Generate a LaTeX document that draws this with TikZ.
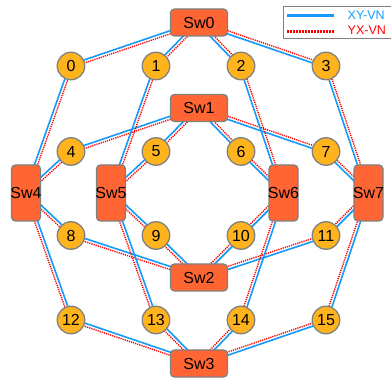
\documentclass[tikz,border=0pt]{standalone}
\usepackage{fontspec}
\setmainfont{Liberation Sans}
\usetikzlibrary{calc}
\definecolor{xyblue}{RGB}{20,155,250}
\definecolor{yxred}{RGB}{255,0,0}
\definecolor{swfill}{RGB}{255,102,51}
\definecolor{pefill}{RGB}{255,180,30}
\definecolor{rim}{RGB}{128,128,128}
\pgfdeclarelayer{bg}
\pgfdeclarelayer{links}
\pgfsetlayers{bg,links,main}
\tikzset{
  swh/.style={draw=rim, line width=1.3pt, fill=swfill, rounded corners=4pt,
    minimum width=57pt, minimum height=27pt, inner sep=0pt,
    font=\fontsize{16}{18}\selectfont},
  swv/.style={swh, minimum width=29pt, minimum height=56pt},
  pe/.style={circle, draw=rim, line width=1.3pt, fill=pefill,
    minimum size=27.5pt, inner sep=0pt, font=\fontsize{16}{18}\selectfont},
  xyline/.style={draw=xyblue, line width=1.6pt},
  yxline/.style={draw=yxred, line width=1.4pt, dash pattern=on 1.2pt off 1pt},
  legtext/.style={anchor=base west, inner sep=0pt, font=\fontsize{12.5}{14}\selectfont},
}
% A pair of virtual-network channels between two nodes:
% the XY channel runs on the left of the direction #1 -> #2, the YX channel on the right.
\newcommand\vnlink[2]{%
  \draw[xyline] ($(#1.center)!1.5pt!90:(#2.center)$) -- ($(#2.center)!1.5pt!-90:(#1.center)$);
  \draw[yxline] ($(#1.center)!1.5pt!-90:(#2.center)$) -- ($(#2.center)!1.5pt!90:(#1.center)$);
}
\begin{document}
\begin{tikzpicture}[x=1pt,y=-1pt]
\begin{pgfonlayer}{bg}
  \fill[white] (0,0) rectangle (391,379);
\end{pgfonlayer}
\clip (0,0) rectangle (391,379);

% row switches
\node[swh] (sw0) at (199,22.5) {Sw0};
\node[swh] (sw1) at (199,108) {Sw1};
\node[swh] (sw2) at (199,277.5) {Sw2};
\node[swh] (sw3) at (199,363.5) {Sw3};
% column switches
\node[swv] (sw4) at (26,193) {\makebox[0pt]{Sw4}};
\node[swv] (sw5) at (111,193) {\makebox[0pt]{Sw5}};
\node[swv] (sw6) at (283.5,193) {\makebox[0pt]{Sw6}};
\node[swv] (sw7) at (368.5,193) {\makebox[0pt]{Sw7}};

% processing elements, 4 x 4 grid
\foreach \y [count=\r from 0] in {66,151.5,235.5,320}{
  \foreach \x [count=\c from 0] in {71,156,241,326}{
    \pgfmathtruncatemacro\n{4*\r+\c}
    \node[pe] (p\n) at (\x,\y) {\n};
  }
}

% links
\begin{pgfonlayer}{links}
  \foreach \r/\s in {0/sw0,1/sw1,2/sw2,3/sw3}{
    \foreach \c in {0,1,2,3}{
      \pgfmathtruncatemacro\n{4*\r+\c}
      \vnlink{p\n}{\s}
    }
  }
  \foreach \c/\s in {0/sw4,1/sw5,2/sw6,3/sw7}{
    \foreach \r in {0,1,2,3}{
      \pgfmathtruncatemacro\n{4*\r+\c}
      \vnlink{\s}{p\n}
    }
  }
\end{pgfonlayer}

% legend
\draw[draw=rim, line width=0.9pt] (283,6.5) rectangle (396,38);
\coordinate (xyA) at (287,15.7);
\coordinate (xyB) at (334,15.7);
\coordinate (yxA) at (287,31.7);
\coordinate (yxB) at (334,31.7);
\draw[xyline, line width=3pt] (xyA) -- (xyB);
\draw[yxline, line width=3pt, dash pattern=on 2pt off 1pt] (yxA) -- (yxB);
\node[legtext, text=xyblue] (legxy) at (347.5,19.5) {XY-VN};
\node[legtext, text=yxred] (legyx) at (347.5,34.5) {YX-VN};
\end{tikzpicture}
\end{document}
